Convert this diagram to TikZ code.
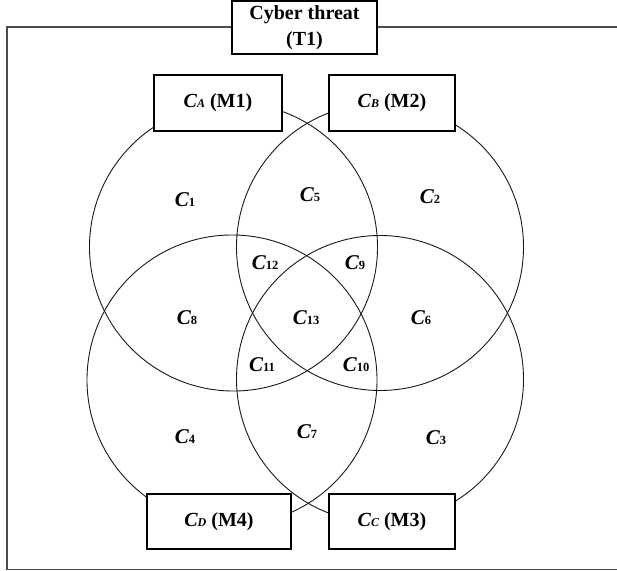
\documentclass[tikz,border=0pt]{standalone}
\usepackage{fontspec}
\setmainfont{Liberation Serif}
\newcommand{\cl}[1]{{\fontsize{21}{24}\selectfont\bfseries\itshape C}{\fontsize{12.5}{12}\selectfont\bfseries #1}}
\newcommand{\cs}[1]{{\bfseries\itshape C}{\fontsize{12}{12}\selectfont\bfseries\itshape #1}}
\begin{document}
\begin{tikzpicture}[x=1pt,y=-1pt,
  ring/.style={draw=black!90,line width=0.9pt},
  boxnode/.style={draw=black,line width=1.1pt,fill=white,inner sep=0pt,align=center,font=\fontsize{20}{26}\selectfont\bfseries},
  reglab/.style={inner sep=0pt}]
\useasboundingbox (0,0) rectangle (617,570);
% frame
\draw[draw=black!70,line width=1.4pt] (640,27) -- (7,27) -- (7,569.3) -- (640,569.3);
% circles
\coordinate (A) at (233.5,247);
\coordinate (B) at (380,247);
\coordinate (C) at (380,379);
\coordinate (D) at (232,380);
\draw[ring] (A) circle (144);
\draw[ring] (B) circle (143.5);
\draw[ring] (C) circle (143.5);
\draw[ring] (D) circle (145);
% boxes
\node[boxnode,minimum width=145,minimum height=53] (T1) at (304.5,27.5) {Cyber threat\\(T1)};
\node[boxnode,minimum width=128,minimum height=56] (MA) at (218,103) {\cs{A} (M1)};
\node[boxnode,minimum width=126,minimum height=56] (MB) at (392,103) {\cs{B} (M2)};
\node[boxnode,minimum width=144,minimum height=55] (MD) at (219,521.5) {\cs{D} (M4)};
\node[boxnode,minimum width=126,minimum height=55] (MC) at (392,521.5) {\cs{C} (M3)};
% region labels
\node[reglab] (r1) at (185,200) {\cl{1}};
\node[reglab] (r5) at (310,195) {\cl{5}};
\node[reglab] (r2) at (430,197) {\cl{2}};
\node[reglab] (r12) at (265,263) {\cl{12}};
\node[reglab] (r9) at (355,263) {\cl{9}};
\node[reglab] (r8) at (187,318) {\cl{8}};
\node[reglab] (r13) at (306,318) {\cl{13}};
\node[reglab] (r6) at (421,318) {\cl{6}};
\node[reglab] (r11) at (262,365) {\cl{11}};
\node[reglab] (r10) at (356,365) {\cl{10}};
\node[reglab] (r4) at (185,437) {\cl{4}};
\node[reglab] (r7) at (307,432) {\cl{7}};
\node[reglab] (r3) at (436,438) {\cl{3}};
\end{tikzpicture}
\end{document}
